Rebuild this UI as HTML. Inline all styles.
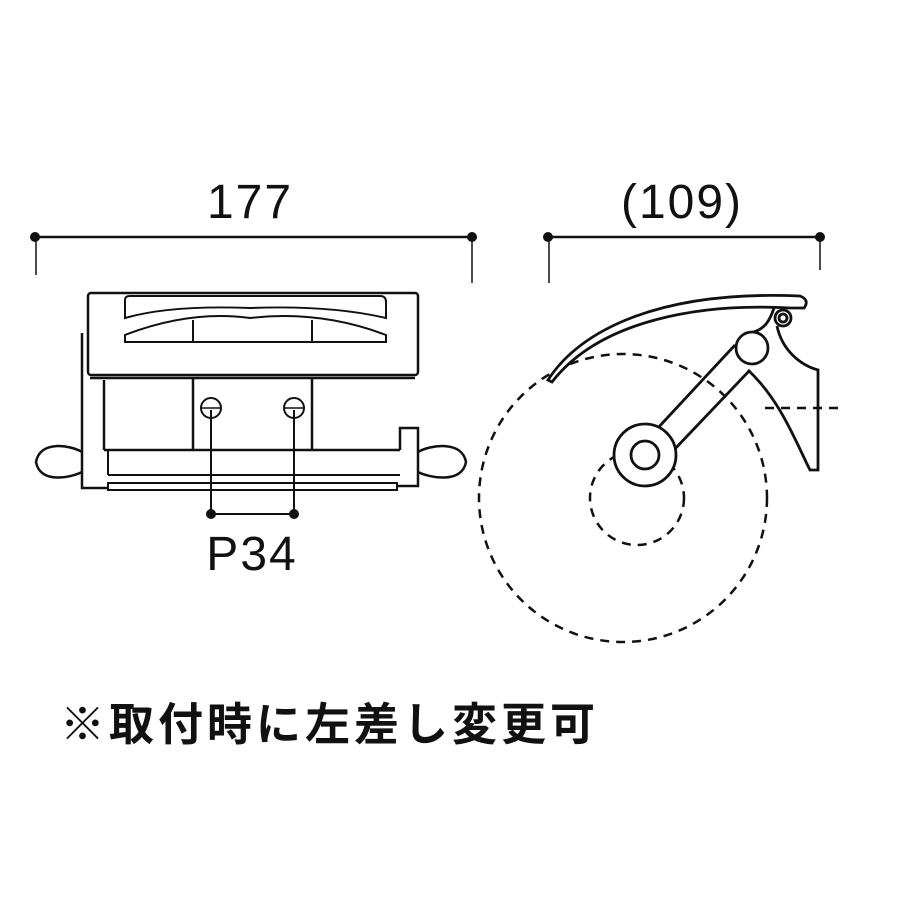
<!DOCTYPE html>
<html><head><meta charset="utf-8"><style>
body{margin:0;background:#fff}
svg{display:block}
text{font-family:"Liberation Sans","Noto Sans CJK JP",sans-serif;fill:#111}
</style></head><body>
<svg width="900" height="900" viewBox="0 0 900 900" xmlns="http://www.w3.org/2000/svg">
<g stroke="#111" fill="none" stroke-width="2.5">
<line x1="35" y1="237" x2="472" y2="237"/>
<line x1="36" y1="237" x2="36" y2="275" stroke-width="1.5"/>
<line x1="472" y1="237" x2="472" y2="283" stroke-width="1.5"/>
<line x1="548" y1="237" x2="820" y2="237"/>
<line x1="549" y1="237" x2="549" y2="283" stroke-width="1.5"/>
<line x1="820" y1="237" x2="820" y2="270" stroke-width="1.5"/>
</g>
<g fill="#111">
<circle cx="35" cy="237" r="5"/><circle cx="472" cy="237" r="5"/>
<circle cx="548" cy="237" r="5"/><circle cx="820" cy="237" r="5"/>
<circle cx="211" cy="514" r="5"/><circle cx="294" cy="514" r="5"/>
</g>
<text x="250" y="218" font-size="48" text-anchor="middle" letter-spacing="2">177</text>
<text x="682" y="218" font-size="48" text-anchor="middle" letter-spacing="2">(109)</text>
<text x="252" y="570" font-size="48" text-anchor="middle" letter-spacing="2">P34</text>
<text x="60" y="740" font-size="45" font-weight="bold" letter-spacing="4">※取付時に左差し変更可</text>

<g stroke="#111" fill="none" stroke-width="2.5">
<rect x="88" y="293" width="330" height="82" rx="3"/>
<path d="M125 300 Q125 296 130 296 L380 296 Q386 296 386 302 L386 318 Q330 305 250 308 Q170 305 125 318 Z" stroke-width="2"/>
<path d="M125 335 Q190 310 250 318 Q320 310 386 335 L386 342 L125 342 Z" stroke-width="2"/>
<line x1="193" y1="320" x2="193" y2="342" stroke-width="2"/>
<line x1="312" y1="320" x2="312" y2="342" stroke-width="2"/>
<line x1="90" y1="378" x2="415" y2="378"/>
<path d="M82 333 L82 488 L108 488"/>
<line x1="104" y1="380" x2="104" y2="450"/>
<line x1="104" y1="450" x2="400" y2="450"/>
<line x1="193" y1="378" x2="193" y2="450"/>
<line x1="312" y1="378" x2="312" y2="450"/>
<line x1="108" y1="450" x2="108" y2="475" stroke-width="2"/>
<line x1="108" y1="475" x2="400" y2="475" stroke-width="2"/>
<path d="M108 483 L397 483 L397 490 L108 490 Z" stroke-width="2"/>
<path d="M400 450 L400 428 L418 428 L418 486 L397 486"/>
<path d="M82 452 C70 445 40 440 36 462 C40 484 70 478 82 472" />
<path d="M418 452 C430 445 462 440 466 462 C462 484 430 478 418 472"/>
<line x1="211" y1="410" x2="211" y2="514" stroke-width="2"/>
<line x1="294" y1="410" x2="294" y2="514" stroke-width="2"/>
<line x1="211" y1="514" x2="294" y2="514" stroke-width="2"/>
<circle cx="211" cy="408" r="10" stroke-width="2"/>
<circle cx="294" cy="408" r="10" stroke-width="2"/>
<line x1="201" y1="408" x2="221" y2="408" stroke-width="1.5"/>
<line x1="284" y1="408" x2="304" y2="408" stroke-width="1.5"/>
</g>

<g stroke="#111" fill="none" stroke-dasharray="9 7" stroke-width="2.5">
<circle cx="623" cy="498" r="144"/>
<circle cx="637" cy="498" r="47"/>
<line x1="765" y1="408" x2="840" y2="408"/>
</g>
<g stroke="#111" fill="none" stroke-width="2.8">
<path d="M548 380 C580 330 660 290 800 296 Q810 300 804 308 L790 308 C700 303 600 320 552 382 Z" fill="#fff"/>
<path d="M774 308 C770 320 765 330 750 333"/>
<path d="M777 326 C782 350 800 365 818 370 L818 470 L810 470 C795 440 780 400 748 370"/>
<path d="M735 345 L656 430"/>
<path d="M750 370 L672 452"/>
<circle cx="645" cy="455" r="31" fill="#fff"/>
<circle cx="645" cy="455" r="14"/>
<circle cx="752" cy="348" r="16" fill="#fff"/>
<circle cx="783" cy="318" r="8"/>
<circle cx="783" cy="318" r="4"/>
</g>
</svg>
</body></html>
